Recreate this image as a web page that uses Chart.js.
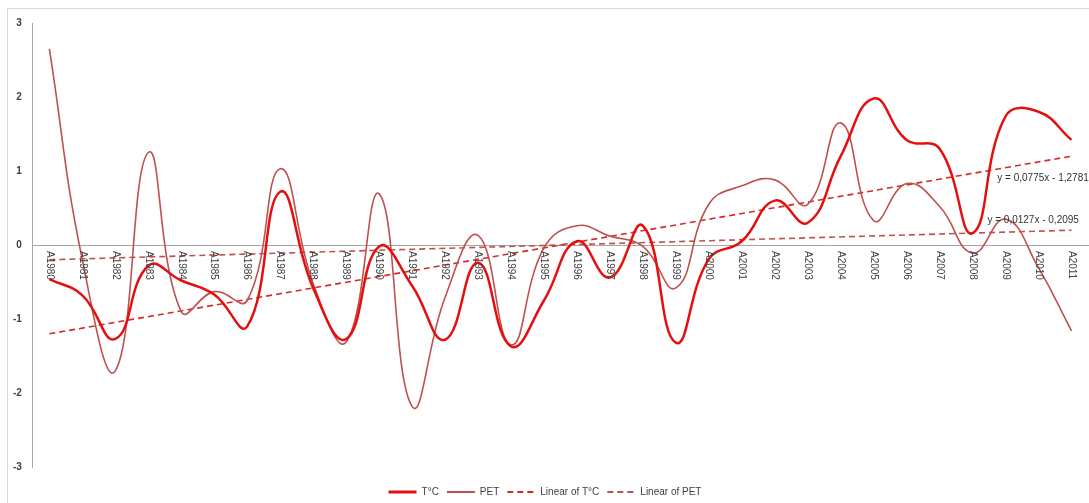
<!DOCTYPE html>
<html>
<head>
<meta charset="utf-8">
<script src="https://cdn.jsdelivr.net/npm/chart.js@4.4.0/dist/chart.umd.min.js"></script>
<style>
  body { margin: 0; background: #fff; overflow: hidden; }
  #frame { position: absolute; left: 7px; top: 8px; width: 1200px; height: 600px; border: 1px solid #d9d9d9; pointer-events: none; }
  canvas { position: absolute; left: 0; top: 0; }
</style>
</head>
<body>
<canvas id="graph_area" width="1089" height="503"></canvas>
<div id="frame"></div>
<script>
// カテゴリ（年）
const years = ['A1980', 'A1981', 'A1982', 'A1983', 'A1984', 'A1985', 'A1986', 'A1987',
  'A1988', 'A1989', 'A1990', 'A1991', 'A1992', 'A1993', 'A1994', 'A1995',
  'A1996', 'A1997', 'A1998', 'A1999', 'A2000', 'A2001', 'A2002', 'A2003',
  'A2004', 'A2005', 'A2006', 'A2007', 'A2008', 'A2009', 'A2010', 'A2011'];

// 系列
const tempValues = [-0.46, -0.68, -1.27, -0.28, -0.48, -0.67, -1.1, 0.72,
  -0.58, -1.27, -0.02, -0.55, -1.28, -0.24, -1.37, -0.75,
  0.05, -0.44, 0.26, -1.32, -0.19, 0.05, 0.6, 0.3,
  1.2, 1.98, 1.42, 1.3, 0.16, 1.74, 1.8, 1.42];
const petValues = [2.65, -0.2, -1.7, 1.25, -0.9, -0.63, -0.75, 1.03,
  -0.52, -1.31, 0.69, -2.18, -0.71, 0.13, -1.35, -0.04,
  0.26, 0.12, -0.02, -0.58, 0.55, 0.8, 0.88, 0.55,
  1.65, 0.33, 0.83, 0.52, -0.11, 0.35, -0.31, -1.16];

// トレンド線（始点・終点）
const tempTrend = [-1.2, 1.2];
const petTrend = [-0.2, 0.2];
const equations = ['y = 0,0775x - 1,2781', 'y = 0,0127x - 0,2095'];

const yTicks = [-3, -2, -1, 0, 1, 2, 3];

const FONT = 'Liberation Sans';
const TEXT = '#404040';

var endsOnly = function (pair) {
  return years.map(function (_, i) {
    if (i === 0) return pair[0];
    if (i === years.length - 1) return pair[1];
    return null;
  });
};

// 回転したX軸ラベルと回帰式
var labelPlugin = {
  id: 'labels',
  afterLayout: function (chart) {
    // 凡例を少し下へ
    chart.legend.top += 4;
    chart.legend.bottom += 4;
  },
  afterDraw: function (chart) {
    const ctx = chart.ctx;
    const xs = chart.scales.x;
    const ys = chart.scales.y;
    const y0 = ys.getPixelForValue(0);
    ctx.save();
    ctx.fillStyle = TEXT;
    ctx.font = '10px "' + FONT + '"';
    ctx.textAlign = 'left';
    ctx.textBaseline = 'middle';
    years.forEach(function (label, i) {
      const x = xs.getPixelForTick(i);
      ctx.save();
      ctx.translate(x, y0 + 6);
      ctx.rotate(Math.PI / 2);
      ctx.fillText(label, 0, 0);
      ctx.restore();
    });
    ctx.textBaseline = 'alphabetic';
    ctx.fillStyle = '#333';
    ctx.fillText(equations[0], xs.getPixelForValue(28.75), ys.getPixelForValue(0.86));
    ctx.fillText(equations[1], xs.getPixelForValue(28.45), ys.getPixelForValue(0.3));
    ctx.restore();
  }
};

const ctx = document.getElementById('graph_area').getContext('2d');
new Chart(ctx, {
  type: 'line',
  data: {
    labels: years,
    datasets: [
      { label: 'T°C', data: tempValues, borderColor: '#e41010', borderWidth: 2.5, tension: 0.45, pointRadius: 0 },
      { label: 'PET', data: petValues, borderColor: '#c0504d', borderWidth: 1.6, tension: 0.45, pointRadius: 0 },
      { label: 'Linear of T°C', data: endsOnly(tempTrend), spanGaps: true, borderColor: '#d42a2a', borderWidth: 1.6, borderDash: [6, 4], pointRadius: 0 },
      { label: 'Linear of PET', data: endsOnly(petTrend), spanGaps: true, borderColor: '#c0504d', borderWidth: 1.6, borderDash: [6, 4], pointRadius: 0 }
    ]
  },
  options: {
    responsive: false,
    animation: false,
    layout: { padding: { top: 23, left: 2, right: 1, bottom: 0 } },
    scales: {
      x: {
        type: 'category',
        offset: true,
        position: { y: 0 },
        grid: { display: false, drawTicks: false },
        border: { display: true, color: '#a6a6a6', width: 1 },
        ticks: { display: false }
      },
      // 凡例との間隔用
      gap: {
        type: 'category',
        position: 'bottom',
        grid: { display: false, drawTicks: false },
        border: { display: false },
        ticks: { display: false },
        afterFit: function (axis) { axis.height = 8; }
      },
      y: {
        min: -3,
        max: 3,
        afterBuildTicks: function (axis) { axis.ticks = yTicks.map(function (v) { return { value: v }; }); },
        grid: { display: false, drawTicks: false },
        border: { display: true, color: '#a6a6a6', width: 1 },
        ticks: { padding: 11, color: TEXT, font: { family: FONT, size: 10, weight: 'bold' } }
      }
    },
    plugins: {
      tooltip: { enabled: false },
      legend: {
        position: 'bottom',
        labels: {
          color: TEXT,
          font: { family: FONT, size: 10 },
          usePointStyle: true,
          pointStyleWidth: 28,
          boxHeight: 6,
          padding: 8,
          generateLabels: function (chart) {
            return chart.data.datasets.map(function (ds, i) {
              return {
                text: ds.label,
                datasetIndex: i,
                pointStyle: 'line',
                strokeStyle: ds.borderColor,
                fillStyle: ds.borderColor,
                lineWidth: ds.borderWidth + 0.5,
                lineDash: ds.borderDash || [],
                fontColor: TEXT
              };
            });
          }
        }
      }
    }
  },
  plugins: [labelPlugin]
});
</script>
</body>
</html>
